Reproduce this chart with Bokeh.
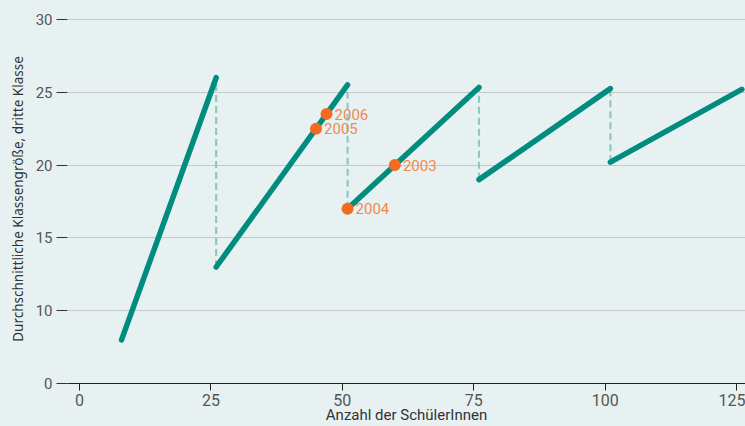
from bokeh.plotting import figure
from bokeh.models import FixedTicker, Range1d, ColumnDataSource, LabelSet
from bokeh.core.properties import value
from bokeh.embed import file_html
from bokeh.resources import INLINE

# data
seg_x = [[8, 26], [26, 51], [51, 76], [76, 101], [101, 126]]
seg_y = [[8, 26], [13, 25.5], [17, 25.33], [19, 25.25], [20.2, 25.2]]
drop_x = [26, 51, 76, 101]
drop_top = [26, 25.5, 25.33, 25.25]
drop_bottom = [13, 17, 19, 20.2]
year_x = [47, 45, 51, 60]
year_y = [23.5, 22.5, 17, 20]
year_lab = ["2006", "2005", "2004", "2003"]
x_ticks = [0, 25, 50, 75, 100, 125]
y_ticks = [5, 10, 15, 20, 25, 30]
y_tick_labels = {5: "0", 10: "10", 15: "15", 20: "20", 25: "25", 30: "30"}

BG = "#e8f1f2"
TEAL = "#008c7e"
DASH = "#8fc8c2"
ORANGE = "#f26b21"
LABEL_OR = "#f0894d"
FONT = "Roboto"

p = figure(width=745, height=426, output_backend="svg", toolbar_location=None,
           x_range=Range1d(-2.28, 126.7), y_range=Range1d(5, 30.34),
           min_border_left=67, min_border_right=0, min_border_top=14, min_border_bottom=42)
p.background_fill_color = BG
p.border_fill_color = BG
p.outline_line_color = None

# dashed drops
for x, t, b in zip(drop_x, drop_top, drop_bottom):
    p.line([x, x], [b, t], line_color=DASH, line_width=2.2, line_dash="7 4")

# segments
for xs, ys in zip(seg_x, seg_y):
    p.line(xs, ys, line_color=TEAL, line_width=5.5, line_cap="round")

src = ColumnDataSource(dict(x=year_x, y=year_y, t=year_lab))
p.scatter("x", "y", source=src, size=12, fill_color=ORANGE, line_color=None)
p.add_layout(LabelSet(x="x", y="y", text="t", source=src, x_offset=8, y_offset=0,
                      text_baseline="middle", text_color=LABEL_OR,
                      text_font_size=value("15px"), text_font=value(FONT)))

# x axis
xa = p.xaxis[0]
xa.ticker = FixedTicker(ticks=x_ticks)
xa.axis_line_color = "#222222"
xa.axis_line_width = 1
xa.major_tick_out = 7
xa.major_tick_in = 0
xa.major_tick_line_color = "#222222"
xa.minor_tick_line_color = None
xa.major_label_text_font = FONT
xa.major_label_text_font_size = "16px"
xa.major_label_text_color = "#555555"
xa.major_label_standoff = 3
xa.axis_label = "Anzahl der SchülerInnen"
xa.axis_label_text_font = FONT
xa.axis_label_text_font_size = "15px"
xa.axis_label_text_font_style = "normal"
xa.axis_label_text_color = "#333333"
xa.axis_label_standoff = -3

# y axis
ya = p.yaxis[0]
ya.ticker = FixedTicker(ticks=y_ticks)
ya.major_label_overrides = y_tick_labels
ya.axis_line_color = None
ya.major_tick_out = 11
ya.major_tick_in = 0
ya.major_tick_line_color = "#333333"
ya.minor_tick_line_color = None
ya.major_label_text_font = FONT
ya.major_label_text_font_size = "15px"
ya.major_label_text_color = "#555555"
ya.major_label_standoff = 4
ya.axis_label = "Durchschnittliche Klassengröße, dritte Klasse"
ya.axis_label_text_font = "Noto Sans"
ya.axis_label_text_font_size = "13.5px"
ya.axis_label_text_font_style = "normal"
ya.axis_label_text_color = "#333333"
ya.axis_label_standoff = 6

p.xgrid.grid_line_color = None
p.ygrid.grid_line_color = "#c6c9ca"
p.ygrid.ticker = FixedTicker(ticks=[10, 15, 20, 25, 30])

html = file_html(p, INLINE)
html = html.replace("<head>", "<head><style>body{background:%s;}</style>" % BG, 1)
open("out.html", "w").write(html)
